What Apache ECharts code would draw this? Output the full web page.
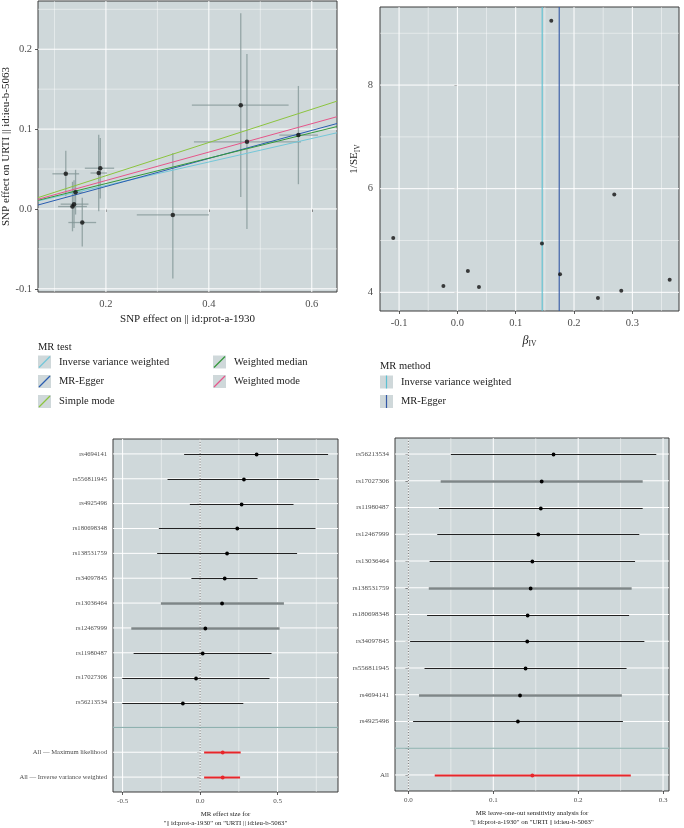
<!DOCTYPE html>
<html>
<head>
<meta charset="utf-8">
<script src="https://cdn.jsdelivr.net/npm/echarts@6/dist/echarts.min.js"></script>
<style>
  html, body { margin: 0; padding: 0; background: #fff; }
  #main { width: 684px; height: 828px; }
</style>
</head>
<body>
<div id="main"></div>
<script>
// ---------- values ----------

// scatter: SNP effect on exposure (x) / outcome (y), with error bars
var scatterSnps = ['rs4694141', 'rs13036464', 'rs11980487', 'rs12467999', 'rs56213534', 'rs4925496',
                   'rs180698348', 'rs17027306', 'rs556811945', 'rs138531759', 'rs34097845'];
var bx   = [0.122, 0.141, 0.135, 0.138, 0.154, 0.189, 0.186, 0.330, 0.462, 0.474, 0.574];
var bxLo = [0.096, 0.127, 0.107, 0.112, 0.127, 0.159, 0.170, 0.260, 0.367, 0.371, 0.537];
var bxHi = [0.148, 0.155, 0.163, 0.166, 0.181, 0.216, 0.202, 0.400, 0.555, 0.579, 0.612];
var by   = [0.044, 0.021, 0.003, 0.006, -0.017, 0.051, 0.045, -0.0075, 0.130, 0.084, 0.0925];
var byLo = [0.016, -0.007, -0.028, -0.024, -0.047, 0.013, -0.003, -0.087, 0.015, -0.025, 0.031];
var byHi = [0.073, 0.049, 0.034, 0.036, 0.014, 0.089, 0.093, 0.070, 0.245, 0.194, 0.154];

// MR test lines (slope / intercept)
var methods    = ['Inverse variance weighted', 'MR-Egger', 'Simple mode', 'Weighted median', 'Weighted mode'];
var slopes     = [0.147, 0.1756, 0.208, 0.159, 0.178];
var intercepts = [0, -0.007, 0, 0, 0];

// funnel
var funnelBeta  = [-0.110, -0.024, 0.018, 0.037, 0.145, 0.161, 0.176, 0.241, 0.269, 0.281, 0.364];
var funnelInvSe = [5.05, 4.12, 4.41, 4.10, 4.94, 9.24, 4.35, 3.89, 5.89, 4.03, 4.24];
var funnelMethods   = ['Inverse variance weighted', 'MR-Egger'];
var funnelEstimates = [0.1454, 0.1746];

// single SNP forest
var leftSnps = ['rs4694141', 'rs556811945', 'rs4925496', 'rs180698348', 'rs138531759', 'rs34097845',
                'rs13036464', 'rs12467999', 'rs11980487', 'rs17027306', 'rs56213534'];
var leftBeta = [0.365, 0.283, 0.268, 0.240, 0.174, 0.159, 0.142, 0.034, 0.017, -0.026, -0.111];
var leftLo   = [-0.103, -0.210, -0.066, -0.266, -0.277, -0.056, -0.253, -0.444, -0.429, -0.502, -0.502];
var leftHi   = [0.826, 0.768, 0.603, 0.745, 0.626, 0.371, 0.541, 0.513, 0.461, 0.448, 0.279];
var leftAllLabels = ['All \u2014 Maximum likelihood', 'All \u2014 Inverse variance weighted'];
var leftAllBeta = [0.146, 0.146];
var leftAllLo   = [0.026, 0.026];
var leftAllHi   = [0.262, 0.258];

// leave-one-out forest
var rightSnps = ['rs56213534', 'rs17027306', 'rs11980487', 'rs12467999', 'rs13036464', 'rs138531759',
                 'rs180698348', 'rs34097845', 'rs556811945', 'rs4694141', 'rs4925496'];
var rightBeta = [0.171, 0.157, 0.156, 0.153, 0.146, 0.144, 0.1405, 0.140, 0.138, 0.1315, 0.129];
var rightLo   = [0.050, 0.038, 0.036, 0.034, 0.025, 0.024, 0.022, 0.002, 0.019, 0.0125, 0.0055];
var rightHi   = [0.292, 0.276, 0.276, 0.272, 0.267, 0.263, 0.260, 0.278, 0.257, 0.2515, 0.2527];
var rightAllLabels = ['All'];
var rightAllBeta = [0.146];
var rightAllLo   = [0.031];
var rightAllHi   = [0.262];

// tick values
var scXTicks = [0.2, 0.4, 0.6], scXMinor = [0.1, 0.3, 0.5];
var scYTicks = [-0.1, 0, 0.1, 0.2], scYMinor = [-0.05, 0.05, 0.15, 0.25];
var fuXTicks = [-0.1, 0, 0.1, 0.2, 0.3], fuXMinor = [-0.05, 0.05, 0.15, 0.25, 0.35];
var fuYTicks = [4, 6, 8], fuYMinor = [5, 7, 9];
var flXTicks = [-0.5, 0, 0.5], flXMinor = [-0.25, 0.25, 0.75];
var frXTicks = [0, 0.1, 0.2, 0.3], frXMinor = [0.05, 0.15, 0.25];

// ---------- styling ----------
var serif = '"Liberation Serif", "DejaVu Serif", serif';
var panelBg = '#cfd8da';
var methodColors = ['#74c7d8', '#2a5db0', '#8cc43f', '#33993a', '#e6568a'];
var funnelColors = ['#5cc0d2', '#3358a6'];
var softRowsLeft = ['rs13036464', 'rs12467999'];
var softRowsRight = ['rs17027306', 'rs138531759', 'rs4694141'];

var SC = { xMin: 0.068, xMax: 0.649, yMin: -0.104, yMax: 0.2604 };
var FU = { xMin: -0.1327, xMax: 0.380, yMin: 3.639, yMax: 9.507 };

function fmt1(v) { return v.toFixed(1); }

function valAxis(gi, min, max, ticks, fontSize, margin, formatter, extra) {
  var a = {
    type: 'value', gridIndex: gi, min: min, max: max,
    axisLine: { show: false },
    axisTick: { show: true, customValues: ticks, length: 3, lineStyle: { color: '#333', width: 0.8 } },
    axisLabel: { customValues: ticks, color: '#4d4d4d', fontFamily: serif, fontSize: fontSize,
                 margin: margin, formatter: formatter },
    splitLine: { show: false }
  };
  for (var k in extra) a[k] = extra[k];
  return a;
}

// straight reference lines spanning a panel (grid lines etc.)
function refLines(gi, xs, ys, style, z) {
  var data = xs.map(function (v) { return [v, 0]; }).concat(ys.map(function (v) { return [v, 1]; }));
  return {
    type: 'custom', xAxisIndex: gi, yAxisIndex: gi, silent: true, z: z, clip: false,
    data: data,
    encode: { x: -1, y: -1 },
    renderItem: function (params, api) {
      var cs = params.coordSys, v = api.value(0), kind = api.value(1), shape;
      if (kind === 0) {
        var px = api.coord([v, 0])[0];
        shape = { x1: px, y1: cs.y, x2: px, y2: cs.y + cs.height };
      } else {
        var py = api.coord([0, v])[1];
        shape = { x1: cs.x, y1: py, x2: cs.x + cs.width, y2: py };
      }
      return { type: 'line', shape: shape, style: style };
    }
  };
}

function forest(gi, names, beta, lo, hi, rowStart, lineColor, lineWidth, pointColor, softRows) {
  var data = names.map(function (n, i) { return [beta[i], rowStart + i, lo[i], hi[i]]; });
  return {
    type: 'custom', xAxisIndex: gi, yAxisIndex: gi, z: 5, silent: true,
    data: data,
    encode: { x: [0, 2, 3], y: 1 },
    renderItem: function (params, api) {
      var i = params.dataIndex;
      var soft = softRows.indexOf(names[i]) >= 0;
      var p = api.coord([api.value(0), api.value(1)]);
      var a = api.coord([api.value(2), api.value(1)]);
      var b = api.coord([api.value(3), api.value(1)]);
      var yy = Math.round(p[1]) + 0.5;
      return {
        type: 'group',
        children: [
          { type: 'line', shape: { x1: a[0], y1: yy, x2: b[0], y2: yy },
            style: { stroke: soft ? '#7e8687' : lineColor, lineWidth: soft ? 2.4 : lineWidth } },
          { type: 'circle', shape: { cx: p[0], cy: yy, r: 1.9 }, style: { fill: pointColor } }
        ]
      };
    }
  };
}

function rowTicks(n) { var r = []; for (var i = 1; i <= n; i++) r.push(i); return r; }

var leftLabels = leftSnps.concat([''], leftAllLabels);
var rightLabels = rightSnps.concat([''], rightAllLabels);
var leftRows = rowTicks(leftLabels.length);
var rightRows = rowTicks(rightLabels.length);

var majorStyle = { stroke: '#ffffff', lineWidth: 1 };
var minorStyle = { stroke: 'rgba(255,255,255,0.75)', lineWidth: 0.6 };

var series = [];

// --- panel 0: scatter
series.push(refLines(0, scXMinor, scYMinor, minorStyle, 1));
series.push(refLines(0, scXTicks, scYTicks, majorStyle, 1));
series.push({
  type: 'custom', xAxisIndex: 0, yAxisIndex: 0, z: 3, silent: true,
  data: bx.map(function (v, i) { return [v, by[i], bxLo[i], bxHi[i], byLo[i], byHi[i]]; }),
  encode: { x: [0, 2, 3], y: [1, 4, 5] },
  renderItem: function (params, api) {
    var c = api.coord([api.value(0), api.value(1)]);
    var xl = api.coord([api.value(2), api.value(1)]);
    var xh = api.coord([api.value(3), api.value(1)]);
    var yl = api.coord([api.value(0), api.value(4)]);
    var yh = api.coord([api.value(0), api.value(5)]);
    var st = { stroke: 'rgba(128,148,148,0.75)', lineWidth: 1.3 };
    return { type: 'group', children: [
      { type: 'line', shape: { x1: xl[0], y1: c[1], x2: xh[0], y2: c[1] }, style: st },
      { type: 'line', shape: { x1: c[0], y1: yl[1], x2: c[0], y2: yh[1] }, style: st }
    ] };
  }
});
methods.forEach(function (m, k) {
  series.push({
    type: 'line', name: m, xAxisIndex: 0, yAxisIndex: 0, z: 4, silent: true,
    showSymbol: false, symbol: 'none',
    data: [[SC.xMin, intercepts[k] + slopes[k] * SC.xMin], [SC.xMax, intercepts[k] + slopes[k] * SC.xMax]],
    lineStyle: { color: methodColors[k], width: 1 }
  });
});
series.push({
  type: 'scatter', xAxisIndex: 0, yAxisIndex: 0, z: 6, silent: true,
  symbolSize: 4.5, itemStyle: { color: '#111' },
  data: bx.map(function (v, i) { return [v, by[i]]; })
});

// --- panel 1: funnel
series.push(refLines(1, fuXMinor, fuYMinor, minorStyle, 1));
series.push(refLines(1, fuXTicks, fuYTicks, majorStyle, 1));
funnelMethods.forEach(function (m, k) {
  series.push({
    type: 'line', name: m, xAxisIndex: 1, yAxisIndex: 1, z: 4, silent: true, symbol: 'none',
    data: [[funnelEstimates[k], FU.yMin], [funnelEstimates[k], FU.yMax]],
    lineStyle: { color: funnelColors[k], width: 1.1 }
  });
});
series.push({
  type: 'scatter', xAxisIndex: 1, yAxisIndex: 1, z: 6, silent: true,
  symbolSize: 4, itemStyle: { color: '#111' },
  data: funnelBeta.map(function (v, i) { return [v, funnelInvSe[i]]; })
});

// --- panel 2: single SNP forest
series.push(refLines(2, flXMinor, [], minorStyle, 1));
series.push(refLines(2, flXTicks, leftRows, majorStyle, 1));
series.push(refLines(2, [0], [], { stroke: '#555', lineWidth: 0.8, lineDash: [1.2, 1.6] }, 2));
series.push(refLines(2, [], [leftSnps.length + 1], { stroke: '#6f9c98', lineWidth: 0.9 }, 2));
series.push(forest(2, leftSnps, leftBeta, leftLo, leftHi, 1, '#222', 1, '#000', softRowsLeft));
series.push(forest(2, leftAllLabels, leftAllBeta, leftAllLo, leftAllHi, leftSnps.length + 2, '#e8262a', 2.2, '#e8262a', []));

// --- panel 3: leave-one-out forest
series.push(refLines(3, frXMinor, [], minorStyle, 1));
series.push(refLines(3, frXTicks, rightRows, majorStyle, 1));
series.push(refLines(3, [0], [], { stroke: '#555', lineWidth: 0.8, lineDash: [1.2, 1.6] }, 2));
series.push(refLines(3, [], [rightSnps.length + 1], { stroke: '#6f9c98', lineWidth: 0.9 }, 2));
series.push(forest(3, rightSnps, rightBeta, rightLo, rightHi, 1, '#222', 1, '#000', softRowsRight));
series.push(forest(3, rightAllLabels, rightAllBeta, rightAllLo, rightAllHi, rightSnps.length + 2, '#e8262a', 2.2, '#e8262a', []));

// ---------- legends (drawn as graphics) ----------
var graphics = [];
function legendTitle(x, y, text) {
  graphics.push({ type: 'text', x: x, y: y, silent: true,
    style: { text: text, fontFamily: serif, fontSize: 10.5, fill: '#222', verticalAlign: 'middle' } });
}
function legendItem(x, yc, text, color, diagonal) {
  var s = 13, y = yc - s / 2;
  graphics.push({ type: 'rect', silent: true, shape: { x: x, y: y, width: s, height: s }, style: { fill: panelBg } });
  graphics.push({ type: 'line', silent: true,
    shape: diagonal ? { x1: x + 1, y1: y + s - 1, x2: x + s - 1, y2: y + 1 }
                    : { x1: x + s / 2, y1: y, x2: x + s / 2, y2: y + s },
    style: { stroke: color, lineWidth: 1.2 } });
  graphics.push({ type: 'text', x: x + 21, y: yc, silent: true,
    style: { text: text, fontFamily: serif, fontSize: 10.5, fill: '#222', verticalAlign: 'middle' } });
}
legendTitle(38, 347, 'MR test');
var legCols = [38, 38, 38, 213, 213], legRows = [362, 381.5, 401.5, 362, 381.5];
methods.forEach(function (m, k) { legendItem(legCols[k], legRows[k], m, methodColors[k], true); });
legendTitle(380, 366, 'MR method');
funnelMethods.forEach(function (m, k) { legendItem(380, [382, 401.5][k], m, funnelColors[k], false); });

// ---------- chart ----------
var grids = [
  { left: 38, top: 1, width: 299, height: 291 },
  { left: 380, top: 7, width: 299, height: 304 },
  { left: 113, top: 439, width: 225, height: 353 },
  { left: 395, top: 438, width: 274, height: 353 }
].map(function (g) {
  g.show = true; g.backgroundColor = panelBg; g.borderColor = '#3a3a3a'; g.borderWidth = 1;
  g.outerBoundsMode = 'none';
  return g;
});

var nameStyle = { fontFamily: serif, fontSize: 11, color: '#222' };
var smallName = { fontFamily: serif, fontSize: 6.8, color: '#222', lineHeight: 8.5 };

var option = {
  animation: false,
  backgroundColor: '#fff',
  grid: grids,
  xAxis: [
    valAxis(0, SC.xMin, SC.xMax, scXTicks, 10.5, 7, fmt1, {
      name: 'SNP effect on || id:prot-a-1930', nameLocation: 'middle', nameGap: 22, nameTextStyle: nameStyle }),
    valAxis(1, FU.xMin, FU.xMax, fuXTicks, 10.5, 7, fmt1, {
      name: '{b|\u03b2}{s|IV}', nameLocation: 'middle', nameGap: 22,
      nameTextStyle: { fontFamily: serif, color: '#222',
        rich: { b: { fontFamily: serif, fontStyle: 'italic', fontSize: 12, color: '#222' },
                s: { fontFamily: serif, fontSize: 7.5, color: '#222', padding: [7, 0, 0, 0] } } } }),
    valAxis(2, -0.562, 0.890, flXTicks, 7, 6, fmt1, {
      name: 'MR effect size for\n"|| id:prot-a-1930" on "URTI || id:ieu-b-5063"',
      nameLocation: 'middle', nameGap: 18, nameTextStyle: smallName }),
    valAxis(3, -0.0158, 0.307, frXTicks, 7, 6, fmt1, {
      name: 'MR leave-one-out sensitivity analysis for\n"|| id:prot-a-1930" on "URTI || id:ieu-b-5063"',
      nameLocation: 'middle', nameGap: 18, nameTextStyle: smallName })
  ],
  yAxis: [
    valAxis(0, SC.yMin, SC.yMax, scYTicks, 10.5, 6, fmt1, {
      name: 'SNP effect on URTI || id:ieu-b-5063', nameLocation: 'middle', nameGap: 20, nameTextStyle: nameStyle }),
    valAxis(1, FU.yMin, FU.yMax, fuYTicks, 10.5, 7, function (v) { return String(v); }, {
      name: '1/SE{s|IV}', nameLocation: 'middle', nameGap: 18,
      nameTextStyle: { fontFamily: serif, fontSize: 11, color: '#222',
        rich: { s: { fontFamily: serif, fontSize: 7.5, color: '#222', padding: [7, 0, 0, 0] } } } }),
    valAxis(2, 0.4, leftLabels.length + 0.6, leftRows, 6.6, 6, function (v) { return leftLabels[Math.round(v) - 1]; },
      { inverse: true }),
    valAxis(3, 0.4, rightLabels.length + 0.6, rightRows, 7, 6, function (v) { return rightLabels[Math.round(v) - 1]; },
      { inverse: true })
  ],
  graphic: graphics,
  series: series
};

var chart = echarts.init(document.getElementById('main'), null, { renderer: 'canvas' });
chart.setOption(option);
</script>
</body>
</html>
